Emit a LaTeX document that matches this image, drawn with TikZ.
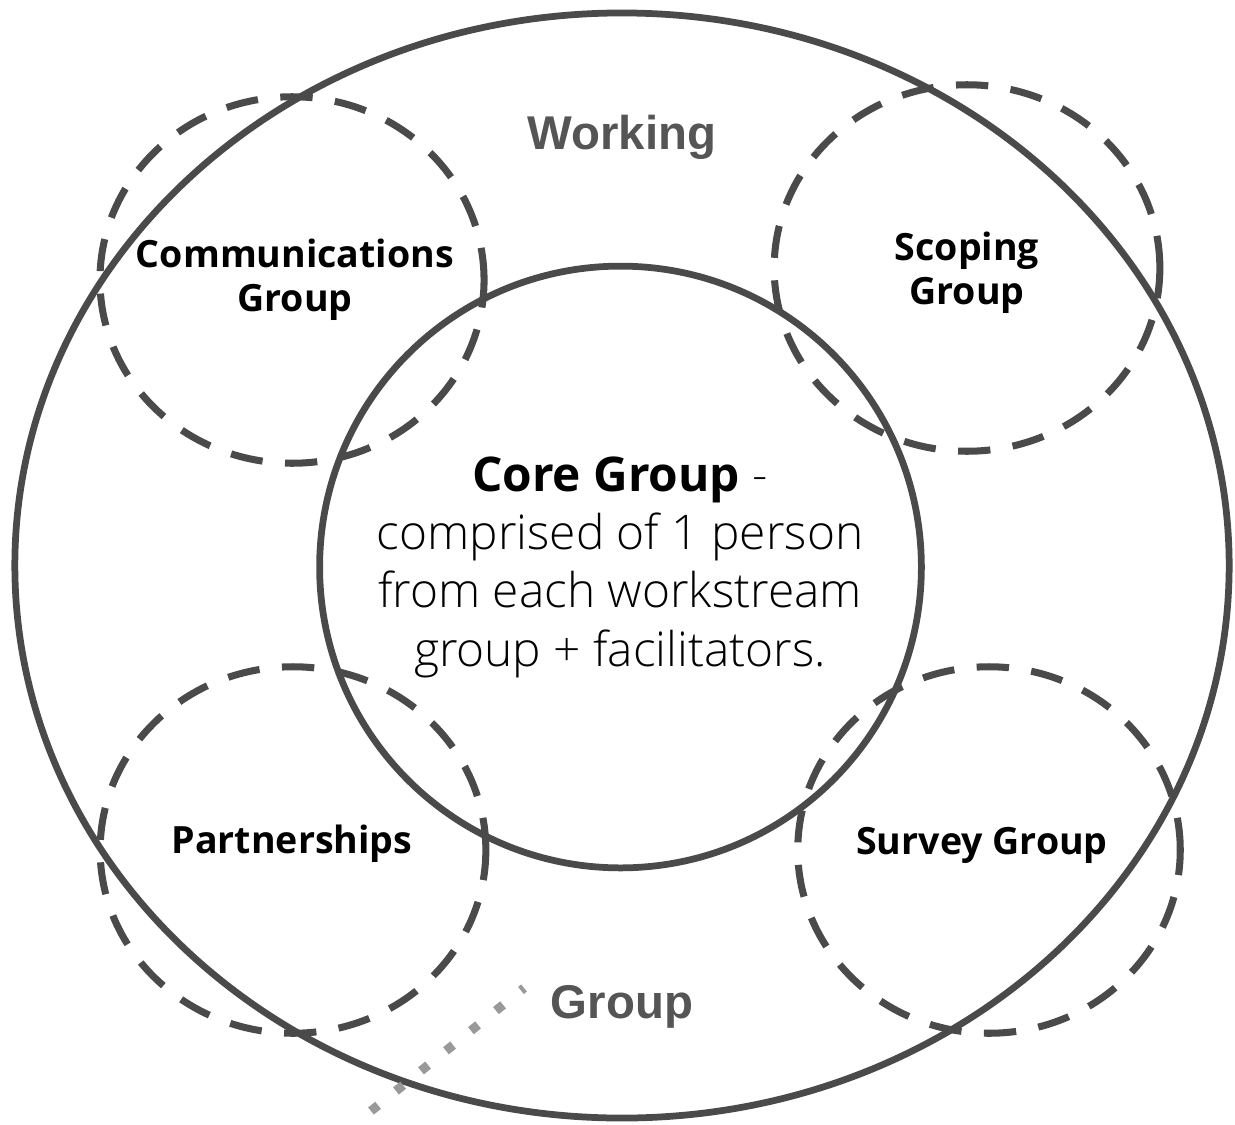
\documentclass[tikz,border=0pt]{standalone}
\usepackage{fontspec}
\setmainfont{Open Sans}
\newfontfamily\oslight{Open Sans Light}
\newfontfamily\arialfont{Liberation Sans}
\definecolor{strokec}{HTML}{4A4A4A}
\definecolor{wgtext}{HTML}{555555}
\definecolor{dotc}{HTML}{999999}
\begin{document}
\begin{tikzpicture}[x=0.025cm,y=-0.025cm,
  solidring/.style={draw=strokec,line width=4.8pt},
  dashring/.style={draw=strokec,line width=5pt,dash pattern=on 23pt off 16pt},
  grouplabel/.style={font=\fontsize{26.7}{31.5}\selectfont\bfseries,align=center,text=black,inner sep=0pt},
  wglabel/.style={font=\arialfont\fontsize{33.7}{40}\selectfont\bfseries,text=wgtext,inner sep=0pt},
  dotline/.style={draw=dotc,line width=6.5pt,dash pattern=on 6.5pt off 16.3pt}]
\useasboundingbox (0,0) rectangle (1235,1124);
% rings
\draw[solidring] (622,565.5) ellipse [x radius=15.175cm, y radius=13.81cm];
\draw[solidring] (620.5,567) circle [radius=7.52cm];
\draw[dashring] (292,280) ellipse [x radius=4.8cm, y radius=4.58cm];
\draw[dashring] (967,268) ellipse [x radius=4.82cm, y radius=4.58cm];
\draw[dashring] (293,850) ellipse [x radius=4.82cm, y radius=4.58cm];
\draw[dashring] (989,850) ellipse [x radius=4.78cm, y radius=4.58cm];
% labels
\node[grouplabel] (comm) at (295,280) {Communications\\Group};
\node[grouplabel] (scop) at (967,273) {Scoping\\Group};
\node[grouplabel] (part) at (292,844) {Partnerships};
\node[grouplabel] (surv) at (982,845) {Survey Group};
\node[wglabel] (work) at (622,137) {Working};
\node[wglabel] (grp) at (622,1007) {Group};
\node[align=center,inner sep=0pt,font=\fontsize{34}{41.5}\selectfont] (core) at (620,567)
  {\textbf{Core Group} {\oslight -}\\ {\oslight comprised of 1 person}\\ {\oslight from each workstream}\\ {\oslight group + facilitators.}};
% dotted line
\coordinate (d1) at (371,1111);
\coordinate (d2) at (524,988);
\draw[dotline] (d1) -- (d2);
\end{tikzpicture}
\end{document}
